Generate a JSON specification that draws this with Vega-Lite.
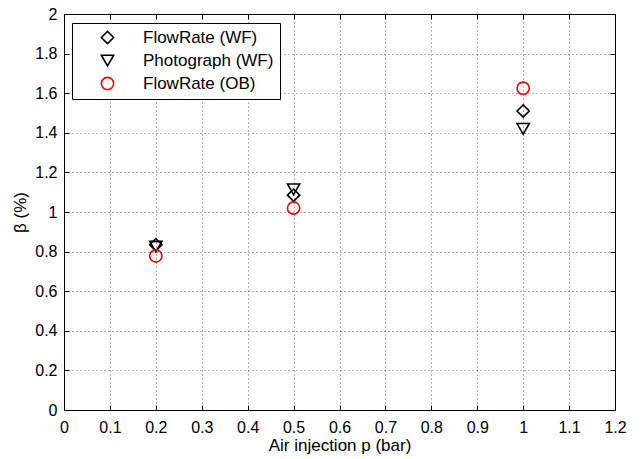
{
  "$schema": "https://vega.github.io/schema/vega-lite/v6.json",
  "width": 551,
  "height": 396,
  "autosize": "none",
  "padding": {"left": 64, "top": 14, "right": 27, "bottom": 49},
  "background": "white",
  "config": {
    "view": {"stroke": "black", "strokeWidth": 1},
    "font": "Liberation Sans",
    "axis": {
      "domainColor": "black",
      "tickColor": "black",
      "labelColor": "black",
      "titleColor": "black",
      "labelFont": "Liberation Sans",
      "titleFont": "Liberation Sans",
      "labelFontSize": 16,
      "titleFontSize": 17,
      "titleFontWeight": "normal",
      "gridColor": "black",
      "gridDash": [1, 3],
      "gridOpacity": 0.6,
      "tickSize": -5
    }
  },
  "data": {
    "values": [
      {"p": 0.2, "beta": 0.835, "series": "FlowRate (WF)"},
      {"p": 0.5, "beta": 1.085, "series": "FlowRate (WF)"},
      {"p": 1.0, "beta": 1.51, "series": "FlowRate (WF)"},
      {"p": 0.2, "beta": 0.825, "series": "Photograph (WF)"},
      {"p": 0.5, "beta": 1.115, "series": "Photograph (WF)"},
      {"p": 1.0, "beta": 1.42, "series": "Photograph (WF)"},
      {"p": 0.2, "beta": 0.778, "series": "FlowRate (OB)"},
      {"p": 0.5, "beta": 1.02, "series": "FlowRate (OB)"},
      {"p": 1.0, "beta": 1.625, "series": "FlowRate (OB)"}
    ]
  },
  "layer": [
    {
      "mark": {"type": "point", "filled": false, "strokeWidth": 1.6, "size": 150, "opacity": 1},
      "encoding": {
        "x": {
          "field": "p", "type": "quantitative",
          "scale": {"domain": [0, 1.2], "nice": false, "zero": false},
          "axis": {"values": [0, 0.1, 0.2, 0.3, 0.4, 0.5, 0.6, 0.7, 0.8, 0.9, 1, 1.1, 1.2], "format": "~g", "title": "Air injection p (bar)", "grid": true, "labelPadding": 14, "titlePadding": 2, "labelFlush": false}
        },
        "y": {
          "field": "beta", "type": "quantitative",
          "scale": {"domain": [0, 2], "nice": false, "zero": false},
          "axis": {"values": [0, 0.2, 0.4, 0.6, 0.8, 1, 1.2, 1.4, 1.6, 1.8, 2], "format": "~g", "title": "β (%)", "grid": true, "labelPadding": 12, "titlePadding": 5, "labelFlush": false}
        },
        "shape": {
          "field": "series", "type": "nominal",
          "scale": {"domain": ["FlowRate (WF)", "Photograph (WF)", "FlowRate (OB)"], "range": ["diamond", "triangle-down", "circle"]},
          "legend": {
            "title": null,
            "orient": "none",
            "legendX": 8,
            "legendY": 9,
            "strokeColor": "black",
            "fillColor": "white",
            "padding": 6,
            "symbolOffset": 21,
            "labelOffset": 27,
            "rowPadding": 4,
            "labelFontSize": 17,
            "labelFont": "Liberation Sans",
            "labelColor": "black",
            "symbolSize": 150,
            "symbolStrokeWidth": 1.6
          }
        },
        "color": {
          "field": "series", "type": "nominal",
          "scale": {"domain": ["FlowRate (WF)", "Photograph (WF)", "FlowRate (OB)"], "range": ["black", "black", "red"]}
        }
      }
    },
    {
      "mark": {"type": "point", "opacity": 0},
      "encoding": {
        "x": {
          "field": "p", "type": "quantitative",
          "axis": {"orient": "top", "values": [0, 0.1, 0.2, 0.3, 0.4, 0.5, 0.6, 0.7, 0.8, 0.9, 1, 1.1, 1.2], "labels": false, "title": null, "grid": false}
        },
        "y": {
          "field": "beta", "type": "quantitative",
          "axis": {"orient": "right", "values": [0, 0.2, 0.4, 0.6, 0.8, 1, 1.2, 1.4, 1.6, 1.8, 2], "labels": false, "title": null, "grid": false}
        }
      }
    }
  ],
  "resolve": {"axis": {"x": "independent", "y": "independent"}}
}
